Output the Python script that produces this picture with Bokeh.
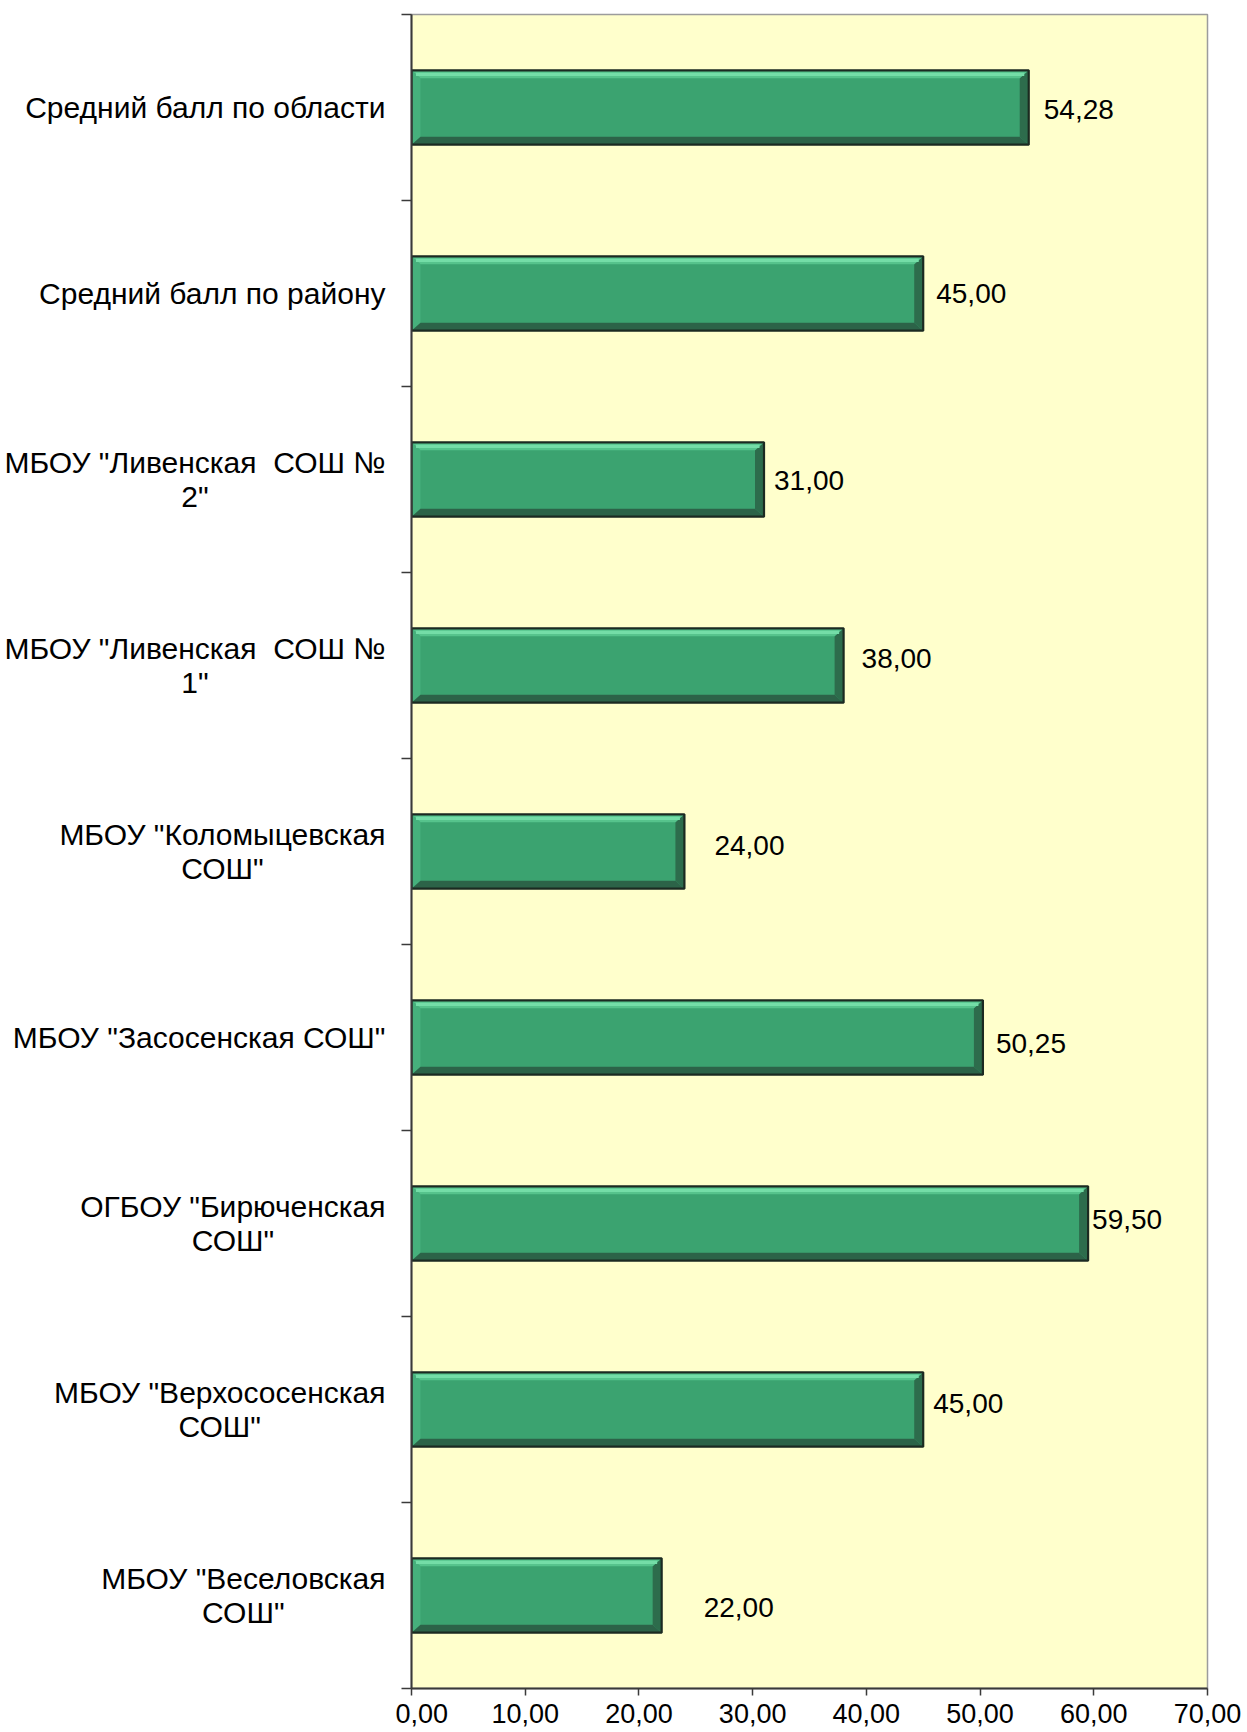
from bokeh.plotting import figure
from bokeh.models import Range1d, FixedTicker, ColumnDataSource
from bokeh.layouts import row
from bokeh.core.properties import value
from bokeh.embed import file_html
from bokeh.resources import INLINE

# ---------------- data ----------------
categories = [
    "Средний балл по области",
    "Средний балл по району",
    'МБОУ "Ливенская\u00a0 СОШ №\n2"',
    'МБОУ "Ливенская\u00a0 СОШ №\n1"',
    'МБОУ "Коломыцевская\nСОШ"',
    'МБОУ "Засосенская СОШ"',
    'ОГБОУ "Бирюченская\nСОШ"',
    'МБОУ "Верхососенская\nСОШ"',
    'МБОУ "Веселовская\nСОШ"',
]
values = [54.28, 45.00, 31.00, 38.00, 24.00, 50.25, 59.50, 45.00, 22.00]
x_ticks = [0, 10, 20, 30, 40, 50, 60, 70]
x_tick_labels = ["0,00", "10,00", "20,00", "30,00", "40,00", "50,00", "60,00", "70,00"]

# per-label nudges of the value labels (pixels), as placed in the original
label_dx = [15, 13, 10, 18, 30, 13, 4, 10, 42]
label_dy = [2, 0, 1, -7, -6, 6, -4, -6, 12]

# ---------------- layout ----------------
W, H = 1247, 1732
LABEL_W = 395            # width of the category-label panel
FRAME_L, FRAME_R, FRAME_T, FRAME_B = 411, 1207, 14, 1688
FONT = "'Liberation Sans', Arial, sans-serif"
CAT_SIZE = 30
VAL_SIZE = 28

n = len(categories)
centers = [n - i - 0.5 for i in range(n)]
boundaries = list(range(n + 1))
bar_h = 0.40
y_range = Range1d(0, n)

# ---------------- main plot ----------------
p = figure(
    width=W - LABEL_W, height=H,
    x_range=Range1d(0, 70), y_range=y_range,
    output_backend="svg", toolbar_location=None,
    min_border_left=FRAME_L - LABEL_W, min_border_right=W - FRAME_R,
    min_border_top=FRAME_T, min_border_bottom=H - FRAME_B,
    background_fill_color="#FFFFCC", border_fill_color="white",
)
p.outline_line_color = "#9C9C9C"
p.outline_line_width = 1.5
p.xgrid.visible = False
p.ygrid.visible = False

# x axis
p.xaxis.ticker = FixedTicker(ticks=x_ticks)
p.xaxis.major_label_overrides = {t: l for t, l in zip(x_ticks, x_tick_labels)}
p.xaxis.major_label_text_font = FONT
p.xaxis.major_label_text_font_size = "27px"
p.xaxis.major_label_text_color = "black"
p.xaxis.major_label_standoff = 8
p.xaxis.axis_line_color = "#3A3A3A"
p.xaxis.axis_line_width = 2
p.xaxis.major_tick_line_color = "#3A3A3A"
p.xaxis.major_tick_line_width = 1.5
p.xaxis.major_tick_out = 7
p.xaxis.major_tick_in = 0
p.xaxis.minor_tick_line_color = None

# y axis: tick marks at category boundaries
p.yaxis.ticker = FixedTicker(ticks=boundaries)
p.yaxis.major_label_overrides = {b: "" for b in boundaries}
p.yaxis.major_label_standoff = 0
p.yaxis.major_tick_out = 10
p.yaxis.major_tick_in = 0
p.yaxis.major_tick_line_color = "#3A3A3A"
p.yaxis.major_tick_line_width = 1.5
p.yaxis.minor_tick_line_color = None
p.yaxis.axis_line_color = "#3A3A3A"
p.yaxis.axis_line_width = 2

# bars with bevel
frame_w = FRAME_R - FRAME_L
frame_h = FRAME_B - FRAME_T
bx = 9 * 70.0 / frame_w
by = 8 * n / frame_h

p.hbar(y=centers, right=values, left=0, height=bar_h,
       fill_color="#3BA370", line_color=None)

top_xs, top_ys, bot_xs, bot_ys, lft_xs, lft_ys, rgt_xs, rgt_ys = ([] for _ in range(8))
for c, v in zip(centers, values):
    t, b = c + bar_h / 2, c - bar_h / 2
    top_xs.append([0, v, v - bx, bx]); top_ys.append([t, t, t - by, t - by])
    bot_xs.append([0, v, v - bx, bx]); bot_ys.append([b, b, b + by, b + by])
    lft_xs.append([0, bx, bx, 0]); lft_ys.append([t, t - by, b + by, b])
    rgt_xs.append([v, v - bx, v - bx, v]); rgt_ys.append([t, t - by, b + by, b])

p.patches(lft_xs, lft_ys, fill_color="#46B07C", line_color=None)
p.patches(rgt_xs, rgt_ys, fill_color="#2D6C4C", line_color=None)
p.patches(top_xs, top_ys, fill_color="#56C38C", line_color=None)
p.patches(bot_xs, bot_ys, fill_color="#2C6348", line_color=None)
p.hbar(y=[c + bar_h / 2 - by * 0.5 for c in centers],
       left=[bx * 0.5 for _ in values], right=[v - bx * 0.5 for v in values],
       height=by * 0.4, fill_color="#74DDA7", line_color=None)
p.hbar(y=centers, right=values, left=0, height=bar_h,
       fill_color=None, line_color="#1B2A21", line_width=2.2)

# value labels
val_src = ColumnDataSource(dict(
    x=values, y=centers,
    text=[f"{v:.2f}".replace(".", ",") for v in values],
    xo=label_dx, yo=label_dy,
))
p.text(x="x", y="y", text="text", source=val_src,
       x_offset="xo", y_offset="yo",
       text_font=value("Liberation Sans"), text_font_size=f"{VAL_SIZE}px",
       text_align="left", text_baseline="middle", text_color="black")

# ---------------- category label panel ----------------
lp = figure(
    width=LABEL_W, height=H,
    x_range=Range1d(0, LABEL_W), y_range=y_range,
    output_backend="svg", toolbar_location=None,
    min_border_left=0, min_border_right=0,
    min_border_top=FRAME_T, min_border_bottom=H - FRAME_B,
    background_fill_color="white", border_fill_color="white",
)
lp.outline_line_color = None
lp.xaxis.visible = False
lp.yaxis.visible = False
lp.xgrid.visible = False
lp.ygrid.visible = False

RIGHT_EDGE = 385  # right edge of the label block, px from page left
cat_src = ColumnDataSource(dict(
    x=[RIGHT_EDGE] * n, y=centers, text=categories,
))
lp.text(x="x", y="y", text="text", source=cat_src,
        anchor="center_right", text_align="center", text_baseline="middle",
        text_font=value("Liberation Sans"), text_font_size=f"{CAT_SIZE}px",
        text_line_height=1.06, text_color="black")

layout = row(lp, p, spacing=0)
open("out.html", "w").write(file_html(layout, INLINE))
